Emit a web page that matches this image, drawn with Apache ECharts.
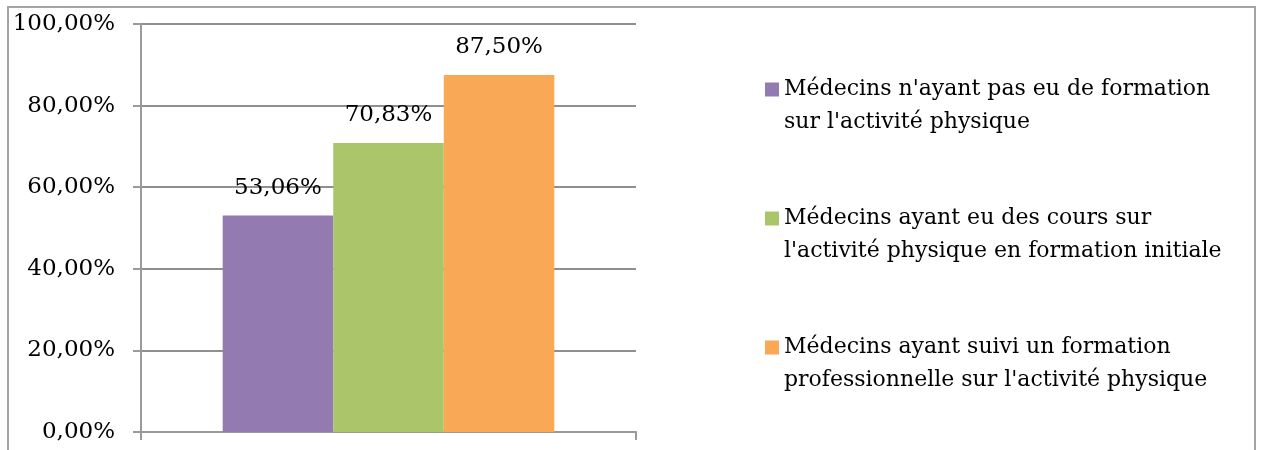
<!DOCTYPE html>
<html>
<head>
<meta charset="utf-8">
<script src="https://cdn.jsdelivr.net/npm/echarts@6/dist/echarts.min.js"></script>
<style>html,body{margin:0;padding:0;background:#fff}#c{width:1262px;height:450px}</style>
</head>
<body>
<div id="c"></div>
<script>
var categories = [''];
var seriesNames = [
  "Médecins n'ayant pas eu de formation sur l'activité physique",
  "Médecins ayant eu des cours sur l'activité physique en formation initiale",
  "Médecins ayant suivi un formation professionnelle sur l'activité physique"
];
var legendLines = [
  "Médecins n'ayant pas eu de formation\nsur l'activité physique",
  "Médecins ayant eu des cours sur\nl'activité physique en formation initiale",
  "Médecins ayant suivi un formation\nprofessionnelle sur l'activité physique"
];
var values = [53.06, 70.83, 87.50];
var colors = ['#937BB1', '#ABC56B', '#F9A856'];
var yTicks = [0, 20, 40, 60, 80, 100];

var FONT = 'DejaVu Serif';
var FS = 23;
function fmt(v){ return Number(v).toFixed(2).replace('.', ',') + '%'; }

var chart = echarts.init(document.getElementById('c'));
var series = seriesNames.map(function(n, i){
  return {
    name: n, type: 'bar', data: [values[i]],
    barGap: '0%', barCategoryGap: '33%',
    itemStyle: { color: colors[i] },
    label: { show: true, position: 'top', distance: 16, formatter: function(p){ return fmt(p.value); },
      fontFamily: FONT, fontSize: FS, color: '#000' },
    emphasis: { disabled: true }
  };
});
chart.setOption({
  animation: false,
  textStyle: { fontFamily: FONT },
  graphic: [{ type: 'rect', shape: { x: 8, y: 7, width: 1247, height: 470 },
    style: { fill: 'none', stroke: '#a3a3a3', lineWidth: 2 }, silent: true, z: -1 }],
  grid: { left: 141, right: 626, top: 24, bottom: 18, containLabel: false },
  xAxis: { type: 'category', data: categories,
    axisLine: { lineStyle: { color: '#9a9a9a', width: 2 } },
    axisTick: { show: true, length: 8, lineStyle: { color: '#9a9a9a', width: 2 } },
    axisLabel: { show: false } },
  yAxis: { type: 'value', min: yTicks[0], max: yTicks[yTicks.length-1], interval: yTicks[1]-yTicks[0],
    axisLine: { show: true, lineStyle: { color: '#9a9a9a', width: 2 } },
    axisTick: { show: true, length: 8, lineStyle: { color: '#9a9a9a', width: 2 } },
    splitLine: { lineStyle: { color: '#8f8f8f', width: 2 } },
    axisLabel: { formatter: fmt, margin: 26, fontFamily: FONT, fontSize: FS, color: '#000', padding: [4, 0, 0, 0] } },
  legend: { orient: 'vertical', left: 760, top: 35, itemWidth: 14, itemHeight: 14, itemGap: 30,
    icon: 'rect', selectedMode: false,
    formatter: function(n){ return '\n' + legendLines[seriesNames.indexOf(n)]; },
    textStyle: { fontFamily: FONT, fontSize: 22, color: '#000', lineHeight: 33 } },
  series: series
});
</script>
</body>
</html>
